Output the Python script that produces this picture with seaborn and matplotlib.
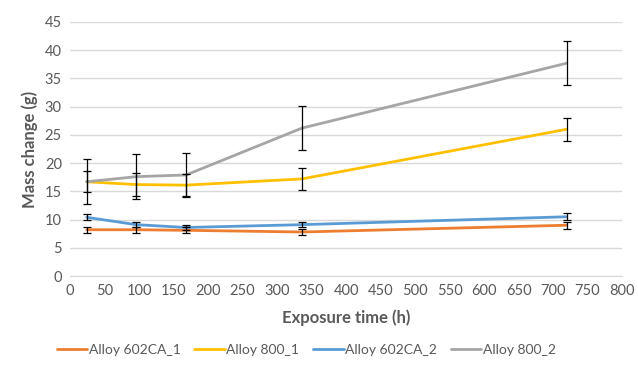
import numpy as np
import pandas as pd
import matplotlib.pyplot as plt
import seaborn as sns

hours = [24, 96, 168, 336, 720]
series_names = ["Alloy 602CA_1", "Alloy 800_1", "Alloy 602CA_2", "Alloy 800_2"]
alloy602_1 = [8.2, 8.2, 8.1, 7.8, 9.0]
alloy800_1 = [16.7, 16.2, 16.1, 17.2, 26.0]
alloy602_2 = [10.4, 9.1, 8.6, 9.1, 10.5]
alloy800_2 = [16.7, 17.6, 17.9, 26.2, 37.7]
err602_1 = [0.5, 0.5, 0.5, 0.5, 0.6]
err800_1 = [1.9, 2.0, 2.0, 1.9, 2.0]
err602_2 = [0.5, 0.5, 0.4, 0.5, 0.6]
err800_2 = [4.0, 4.0, 3.9, 3.9, 3.9]
colors = ["#ED7D31", "#FFC000", "#5B9BD5", "#A5A5A5"]

values = [alloy602_1, alloy800_1, alloy602_2, alloy800_2]
errors = [err602_1, err800_1, err602_2, err800_2]

df = pd.DataFrame({
    "hours": hours * 4,
    "mass": np.concatenate(values),
    "alloy": np.repeat(series_names, len(hours)),
})

sns.set_style("white")
plt.rcParams["font.family"] = ["Lato", "DejaVu Sans"]

fig = plt.figure(figsize=(6.38, 3.85), dpi=100)
ax = fig.add_axes([0.110, 0.283, 0.865, 0.660])

sns.lineplot(data=df, x="hours", y="mass", hue="alloy", hue_order=series_names,
             palette=colors, linewidth=2, ax=ax, legend=True)

# black error bars on top of the lines
for v, e in zip(values, errors):
    ax.errorbar(hours, v, yerr=e, fmt="none", ecolor="black", elinewidth=0.9,
                capsize=3, capthick=0.9, zorder=5)

ax.set_xlim(0, 800)
ax.set_ylim(0, 45)
ax.set_xticks(np.arange(0, 801, 50))
ax.set_yticks(np.arange(0, 46, 5))
ax.grid(axis="y", color="#D9D9D9", linewidth=1)
for s in ["top", "right", "left"]:
    ax.spines[s].set_visible(False)
ax.spines["bottom"].set_color("#D9D9D9")
ax.tick_params(axis="both", colors="#595959", labelsize=10.5, length=0, pad=6)
ax.set_xlabel("Exposure time (h)", fontsize=12, fontweight="bold", color="#595959", labelpad=8)
ax.set_ylabel("Mass change (g)", fontsize=12, fontweight="bold", color="#595959", labelpad=5)

handles, labels = ax.get_legend_handles_labels()
ax.legend(handles, labels, loc="center", bbox_to_anchor=(0.48, 0.09),
          bbox_transform=fig.transFigure, ncol=4, frameon=False,
          fontsize=10, labelcolor="#595959", handlelength=2.2,
          handletextpad=0.1, columnspacing=1.0)

fig.savefig("out.png", dpi=100)
